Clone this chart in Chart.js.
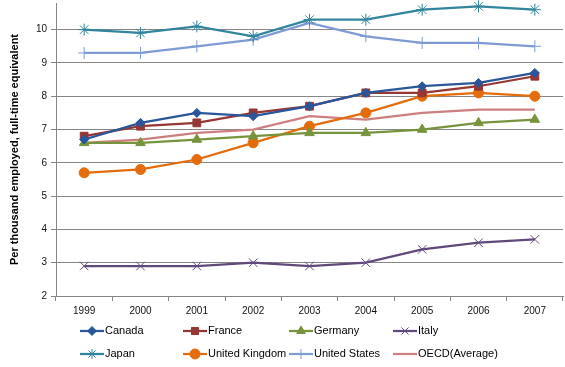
<!DOCTYPE html>
<html><head><meta charset="utf-8">
<script src="https://cdn.jsdelivr.net/npm/chart.js@4/dist/chart.umd.min.js"></script>
<style>html,body{margin:0;padding:0;background:#fff}#wrap{width:565px;height:367px}</style>
</head><body><div id="wrap"><canvas id="c" width="565" height="367"></canvas></div>
<script>
const years = ['1999','2000','2001','2002','2003','2004','2005','2006','2007'];
const canada  = [6.7, 7.2, 7.5, 7.4, 7.7, 8.1, 8.3, 8.4, 8.7];
const france  = [6.8, 7.1, 7.2, 7.5, 7.7, 8.1, 8.1, 8.3, 8.6];
const germany = [6.6, 6.6, 6.7, 6.8, 6.9, 6.9, 7.0, 7.2, 7.3];
const italy   = [2.9, 2.9, 2.9, 3.0, 2.9, 3.0, 3.4, 3.6, 3.7];
const japan   = [10.0, 9.9, 10.1, 9.8, 10.3, 10.3, 10.6, 10.7, 10.6];
const uk      = [5.7, 5.8, 6.1, 6.6, 7.1, 7.5, 8.0, 8.1, 8.0];
const us      = [9.3, 9.3, 9.5, 9.7, 10.2, 9.8, 9.6, 9.6, 9.5];
const oecd    = [6.6, 6.7, 6.9, 7.0, 7.4, 7.3, 7.5, 7.6, 7.6];
const yTicks  = [2, 3, 4, 5, 6, 7, 8, 9, 10];
const yTitle  = 'Per thousand employed, full-time equivalent';

const FONT = "'Liberation Sans', Arial, sans-serif";
function ds(label, data, color, style, radius, extra) {
  return Object.assign({
    label, data, borderColor: color, backgroundColor: color,
    pointStyle: style, pointRadius: radius, pointHoverRadius: radius,
    pointBorderColor: color, pointBackgroundColor: color,
    borderWidth: 2.25, pointBorderWidth: 1, tension: 0, fill: false, clip: false
  }, extra || {});
}
const datasets = [
  ds('Canada', canada, '#2B579A', 'rectRot', 4.5),
  ds('France', france, '#953735', 'rect', 5.5),
  ds('Germany', germany, '#77933C', 'triangle', 5.5),
  ds('Italy', italy, '#604A7B', 'crossRot', 6),
  ds('Japan', japan, '#31859C', 'star', 6),
  ds('United Kingdom', uk, '#E46C0A', 'circle', 5),
  ds('United States', us, '#7F9BD3', 'cross', 6),
  ds('OECD(Average)', oecd, '#CC7F7E', 'circle', 0)
];

const legendPlugin = {
  id: 'customLegend',
  afterDraw(chart) {
    const ctx = chart.ctx;
    const cols = [80, 183, 289, 393];
    const rows = [331, 354];
    ctx.save();
    ctx.font = '11px ' + FONT;
    ctx.textBaseline = 'middle';
    chart.data.datasets.forEach((d, i) => {
      const x = cols[i % 4], y = rows[Math.floor(i / 4)];
      ctx.strokeStyle = d.borderColor;
      ctx.lineWidth = 2.25;
      ctx.beginPath(); ctx.moveTo(x, y); ctx.lineTo(x + 24, y); ctx.stroke();
      if (d.pointRadius > 0 && Chart.helpers && Chart.helpers.drawPoint) {
        ctx.fillStyle = d.pointBackgroundColor;
        ctx.strokeStyle = d.pointBorderColor;
        ctx.lineWidth = d.pointBorderWidth;
        Chart.helpers.drawPoint(ctx, {pointStyle: d.pointStyle, radius: Math.min(d.pointRadius, 5), rotation: 0, borderWidth: d.pointBorderWidth}, x + 12, y);
      }
      ctx.fillStyle = '#000';
      ctx.fillText(d.label, x + 25, y);
    });
    ctx.restore();
  }
};

new Chart(document.getElementById('c'), {
  type: 'line',
  data: { labels: years, datasets },
  plugins: [legendPlugin],
  options: {
    responsive: false, animation: false, devicePixelRatio: 1,
    layout: { autoPadding: false, padding: { top: 3, right: 2, left: 0, bottom: 0 } },
    plugins: { legend: { display: false }, tooltip: { enabled: false } },
    scales: {
      x: {
        offset: true,
        grid: { drawOnChartArea: false, drawTicks: true, tickLength: 5, color: '#868686', offset: true },
        border: { display: true, color: '#868686', width: 1 },
        ticks: { color: '#111', font: { family: FONT, size: 10 }, padding: 4, maxRotation: 0 },
        afterFit(s) { s.height = 71; s.paddingLeft = 0; s.paddingRight = 0; }
      },
      y: {
        min: 2, max: 10.8,
        afterBuildTicks(s) { s.ticks = yTicks.map(v => ({ value: v })); },
        grid: { color: '#868686', tickLength: 5, drawTicks: true },
        border: { display: true, color: '#868686', width: 1 },
        ticks: { color: '#111', font: { family: FONT, size: 10 }, padding: 4 },
        title: { display: true, text: yTitle, color: '#000', font: { family: FONT, size: 11, weight: 'bold' }, padding: { top: 8, bottom: 4 } },
        afterFit(s) { s.width = 56; s.paddingTop = 0; s.paddingBottom = 0; }
      }
    }
  }
});
</script></body></html>
